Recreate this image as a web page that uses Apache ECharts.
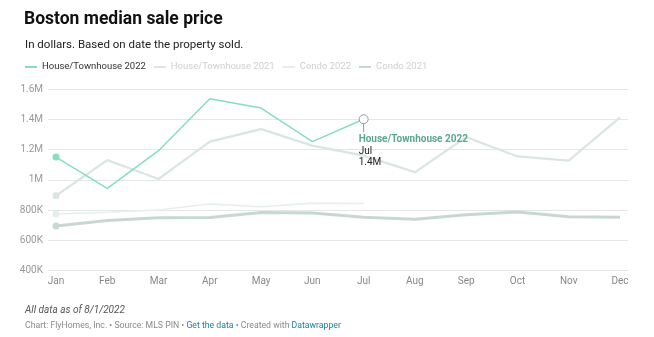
<!DOCTYPE html>
<html><head><meta charset="utf-8">
<script src="https://cdn.jsdelivr.net/npm/echarts@6/dist/echarts.min.js"></script>
<style>html,body{margin:0;padding:0;background:#fff}#c{width:654px;height:337px}</style>
</head><body><div id="c"></div>
<script>
const months = ['Jan','Feb','Mar','Apr','May','Jun','Jul','Aug','Sep','Oct','Nov','Dec'];
const house2022 = [1150000, 943000, 1192000, 1536000, 1474000, 1252000, 1400000];
const house2021 = [894000, 1130000, 1005000, 1252000, 1335000, 1225000, 1160000, 1050000, 1282000, 1154000, 1127000, 1413000];
const condo2022 = [774000, 785000, 800000, 840000, 822000, 845000, 843000];
const condo2021 = [694000, 730000, 748000, 750000, 784000, 780000, 752000, 739000, 768000, 786000, 756000, 752000];
const yTicks = [400000, 600000, 800000, 1000000, 1200000, 1400000, 1600000];
const yTickLabels = ['400K','600K','800K','1M','1.2M','1.4M','1.6M'];
const seriesNames = ['House/Townhouse 2022','House/Townhouse 2021','Condo 2022','Condo 2021'];

const FONT = 'Roboto, "Noto Sans", sans-serif';
const colors = ['#84dfc0', '#dbe6e2', '#e6eeeb', '#c8d8d1'];
const widths = [1.5, 2.3, 1.5, 3];

function pairs(arr){ return arr.map((v,i)=>[i,v]); }

const chart = echarts.init(document.getElementById('c'));

function mkSeries(idx, arr, z){
  return {
    name: seriesNames[idx], type: 'line', data: pairs(arr), z: z,
    symbol: 'circle',
    symbolSize: (v, p) => p.dataIndex === 0 ? 7 : 0,
    itemStyle: {color: colors[idx]},
    lineStyle: {color: colors[idx], width: widths[idx]},
    emphasis: {disabled: true}, silent: true, animation: false
  };
}

const s0 = mkSeries(0, house2022, 10);
s0.data = pairs(house2022).map((d,i)=>{
  if (i === 6) {
    return {value: d,
      itemStyle: {color: '#fff', borderColor: '#999', borderWidth: 1},
      label: {show: true, position: [0, 19], formatter: () => '{a|' + seriesNames[0] + '}\n{b|' + months[6] + '}\n{b|1.4M}',
        rich: {a: {fontFamily: FONT, fontSize: 10, fontWeight: 'bold', color: '#5aa98c', lineHeight: 12},
               b: {fontFamily: FONT, fontSize: 10, color: '#222', lineHeight: 11.5}}}};
  }
  return {value: d};
});
s0.symbolSize = (v, p) => p.dataIndex === 0 ? 7 : (p.dataIndex === 6 ? 9 : 0);

const option = {
  animation: false,
  textStyle: {fontFamily: FONT},
  title: [
    {text: 'Boston median sale price', left: 19, top: 6,
     textStyle: {fontFamily: FONT, fontSize: 17.5, fontWeight: 'bold', color: '#111'}},
    {text: 'In dollars. Based on date the property sold.', left: 20, top: 34,
     textStyle: {fontFamily: FONT, fontSize: 11.5, fontWeight: 'normal', color: '#222'}},
    {text: 'All data as of 8/1/2022', left: 20, top: 300,
     textStyle: {fontFamily: FONT, fontSize: 10, fontStyle: 'italic', fontWeight: 'normal', color: '#555'}},
    {text: '{g|Chart: FlyHomes, Inc. • Source: MLS PIN • }{l|Get the data}{g| • Created with }{l|Datawrapper}', left: 20, top: 316,
     textStyle: {fontFamily: FONT, fontSize: 8.7, fontWeight: 'normal',
       rich: {g: {fontFamily: FONT, fontSize: 8.7, color: '#8a8a8a'}, l: {fontFamily: FONT, fontSize: 8.7, color: '#1d81a2'}}}}
  ],
  legend: {
    left: 20, top: 57, itemWidth: 12, itemHeight: 2, itemGap: 8, icon: 'rect',
    selectedMode: false,
    textStyle: {fontFamily: FONT, fontSize: 9.5, color: '#ccc'},
    data: seriesNames.map((n,i)=>({name: n, itemStyle: {color: colors[i]},
      textStyle: {color: i === 0 ? '#333' : '#cfcfcf'}}))
  },
  grid: {left: 48, right: 26, top: 89, bottom: 66.5, containLabel: false},
  xAxis: {
    type: 'value', min: -0.156, max: 11.156,
    axisLine: {show: false}, axisTick: {show: false}, splitLine: {show: false},
    axisLabel: {customValues: months.map((m,i)=>i), formatter: v => months[Math.round(v)],
      fontFamily: FONT, fontSize: 10, color: '#888', margin: 6}
  },
  yAxis: {
    type: 'value', min: 400000, max: 1600000, interval: 200000,
    axisLine: {show: false}, axisTick: {show: false},
    splitLine: {lineStyle: {color: '#e6e6e6', width: 1}},
    axisLabel: {formatter: v => yTickLabels[yTicks.indexOf(v)], fontFamily: FONT, fontSize: 10, color: '#999', margin: 5}
  },
  series: [
    mkSeries(3, condo2021, 2),
    mkSeries(2, condo2022, 3),
    mkSeries(1, house2021, 4),
    s0
  ]
};
chart.setOption(option);

const p = chart.convertToPixel({gridIndex: 0}, [6, house2022[6]]);
chart.setOption({graphic: [{type: 'line', shape: {x1: p[0], y1: p[1] + 4.5, x2: p[0], y2: p[1] + 13},
  style: {stroke: '#999', lineWidth: 1}, z: 100}]});
</script></body></html>
